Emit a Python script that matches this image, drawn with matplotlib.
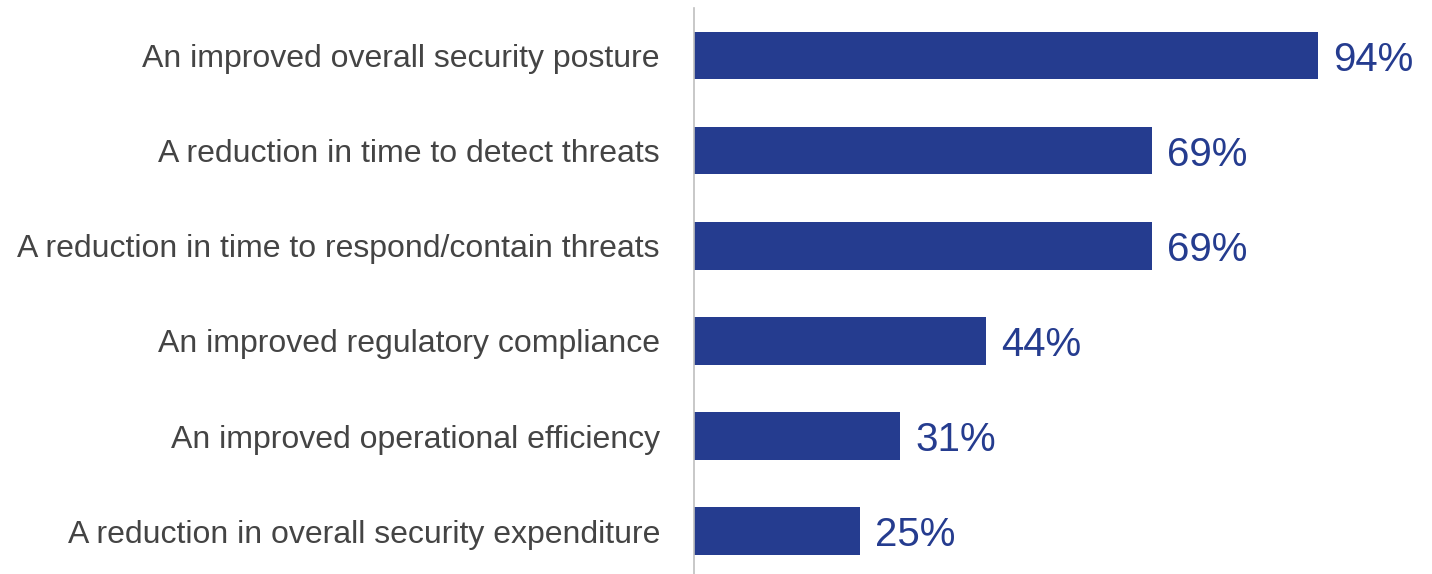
import matplotlib.pyplot as plt

# podaci s grafa
kategorije = [
    "An improved overall security posture",
    "A reduction in time to detect threats",
    "A reduction in time to respond/contain threats",
    "An improved regulatory compliance",
    "An improved operational efficiency",
    "A reduction in overall security expenditure",
]
postotci = [94, 69, 69, 44, 31, 25]

plava = "#253C8F"
siva = "#444444"

plt.rcParams["font.family"] = ["Liberation Sans", "DejaVu Sans"]

fig = plt.figure(figsize=(14.32, 5.74), dpi=100)
ax = fig.add_axes([0.4846, 0.0, 0.4637, 0.986])

y = list(range(len(kategorije)))
ax.barh(y, postotci, height=0.5, color=plava)

# oznake vrijednosti desno od stupaca
for yi, v in zip(y, postotci):
    ax.text(v + 2.3, yi, f"{v}%", va="center_baseline", ha="left",
            fontsize=29, color=plava, clip_on=False)

ax.set_yticks(y)
ax.set_yticklabels(kategorije, fontsize=23, color=siva)
ax.tick_params(axis="y", length=0, pad=24.5)
ax.set_xticks([])
ax.set_xlim(0, 100)
ax.set_ylim(5.45, -0.5)

for s in ["top", "right", "bottom"]:
    ax.spines[s].set_visible(False)
ax.spines["left"].set_color("#BFBFBF")
ax.spines["left"].set_linewidth(1.2)

fig.savefig("out.png", dpi=100)
